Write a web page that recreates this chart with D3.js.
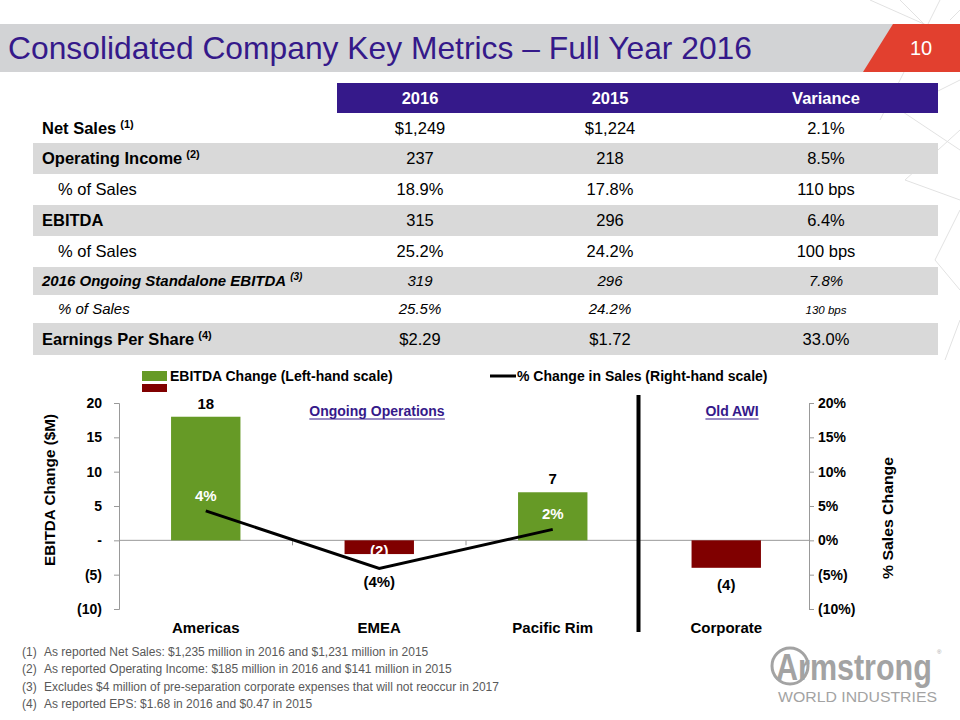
<!DOCTYPE html>
<html><head><meta charset="utf-8">
<script src="https://cdn.jsdelivr.net/npm/d3@7"></script>
<style>
body{margin:0;background:#fff;}
svg{display:block;font-family:Arial,"Liberation Sans",sans-serif;}
</style></head>
<body>
<script>
// ---------- data ----------
const tableHeaders = ["2016", "2015", "Variance"];
const rowLabels = ["Net Sales", "Operating Income", "% of Sales", "EBITDA", "% of Sales", "2016 Ongoing Standalone EBITDA", "% of Sales", "Earnings Per Share"];
const rowNotes = ["(1)", "(2)", "", "", "", "(3)", "", "(4)"];
const col2016 = ["$1,249", "237", "18.9%", "315", "25.2%", "319", "25.5%", "$2.29"];
const col2015 = ["$1,224", "218", "17.8%", "296", "24.2%", "296", "24.2%", "$1.72"];
const colVariance = ["2.1%", "8.5%", "110 bps", "6.4%", "100 bps", "7.8%", "130 bps", "33.0%"];

const categories = ["Americas", "EMEA", "Pacific Rim", "Corporate"];
const ebitdaChange = [18, -2, 7, -4];
const ebitdaLabels = ["18", "(2)", "7", "(4)"];
const salesChange = [4.3, -4.1, 1.6];          // % change in sales (ongoing ops only)
const salesLabels = ["4%", "(4%)", "2%"];
const leftTicks = [-10, -5, 0, 5, 10, 15, 20];
const leftTickLabels = ["(10)", "(5)", "-", "5", "10", "15", "20"];
const rightTicks = [-10, -5, 0, 5, 10, 15, 20];
const rightTickLabels = ["(10%)", "(5%)", "0%", "5%", "10%", "15%", "20%"];
const footnotes = [
  ["(1)", "As reported Net Sales: $1,235 million in 2016 and $1,231 million in 2015"],
  ["(2)", "As reported Operating Income: $185 million in 2016 and $141 million in 2015"],
  ["(3)", "Excludes $4 million of pre-separation corporate expenses that will not reoccur in 2017"],
  ["(4)", "As reported EPS: $1.68 in 2016 and $0.47 in 2015"]
];

// ---------- svg ----------
const W = 960, H = 720;
const svg = d3.select("body").append("svg").attr("width", W).attr("height", H);
const purple = "#35198a", green = "#669a26", red = "#800000";

// decorative lines top-right
const deco = [[870,0,960,40],[900,0,960,60],[940,0,880,120],[960,80,900,110],[900,110,960,150],
  [960,130,905,180],[905,180,960,200],[960,210,935,260],[935,260,960,290],[960,320,945,360],[950,20,960,10]];
svg.append("g").selectAll("line").data(deco).join("line")
  .attr("x1",d=>d[0]).attr("y1",d=>d[1]).attr("x2",d=>d[2]).attr("y2",d=>d[3])
  .attr("stroke","#e2e2e2").attr("stroke-width",1);

// title band
svg.append("rect").attr("x",0).attr("y",24).attr("width",895).attr("height",48).attr("fill","#d2d3d5");
svg.append("polygon").attr("points","893,24 960,24 960,72 863,72").attr("fill","#e2402f");
svg.append("text").attr("x",8).attr("y",59).attr("font-size",31.5).attr("fill",purple)
  .attr("textLength",744).attr("lengthAdjust","spacingAndGlyphs")
  .text("Consolidated Company Key Metrics – Full Year 2016");
svg.append("text").attr("x",921).attr("y",55).attr("text-anchor","middle").attr("font-size",20).attr("fill","#fff").text("10");

// ---------- table ----------
const colX = [420, 610, 826];
const rowTop = [113,143,174,205,236,267,295,323];
const rowBot = [143,174,205,236,267,295,323,355];
svg.append("rect").attr("x",337).attr("y",83).attr("width",601).attr("height",30).attr("fill",purple);
svg.append("g").selectAll("text").data(tableHeaders).join("text")
  .attr("x",(d,i)=>colX[i]).attr("y",104).attr("text-anchor","middle")
  .attr("font-size",16.5).attr("font-weight","bold").attr("fill","#fff").text(d=>d);

const rows = svg.append("g").selectAll("g").data(rowLabels).join("g");
rows.each(function(d,i){
  const g = d3.select(this);
  if(i%2===1) g.append("rect").attr("x",33).attr("y",rowTop[i]).attr("width",905).attr("height",rowBot[i]-rowTop[i]).attr("fill","#d9d9d9");
  const italic = (i===5||i===6);
  const indent = (d==="% of Sales");
  const bold = !indent;
  const fs = italic ? 15 : 16.5;
  const cy = (rowTop[i]+rowBot[i])/2 + fs*0.36;
  const t = g.append("text").attr("x", indent ? 58 : 42).attr("y",cy)
    .attr("font-size",fs).attr("font-weight", bold ? "bold":"normal")
    .attr("font-style", italic ? "italic":"normal").attr("fill","#000").text(d);
  if(rowNotes[i]) t.append("tspan").attr("font-size", italic?10:11).attr("dx",4).attr("dy",-6).text(rowNotes[i]);
  const vals = [col2016[i], col2015[i], colVariance[i]];
  g.selectAll("text.v").data(vals).join("text").attr("class","v")
    .attr("x",(v,j)=>colX[j]).attr("y",cy).attr("text-anchor","middle")
    .attr("font-size",(v,j)=> (i===6 && j===2) ? 11.5 : fs)
    .attr("font-style", italic ? "italic":"normal").text(v=>v);
});

// ---------- chart ----------
const x0 = 119, x1 = 813;
const x = d3.scaleBand().domain(categories).range([x0,x1]).padding(0);
const yL = d3.scaleLinear().domain([-10,20]).range([609,403]);
const yR = d3.scaleLinear().domain([-10,20]).range([609,403]);
const barW = x.bandwidth()*0.4;
const cx = c => x(c)+x.bandwidth()/2;

// left axis
const gl = svg.append("g").attr("transform",`translate(${x0},0)`)
  .call(d3.axisLeft(yL).tickValues(leftTicks).tickFormat((d,i)=>leftTickLabels[i]).tickSize(5).tickPadding(12));
gl.selectAll("path,line").attr("stroke","#999");
gl.selectAll("text").attr("font-size",14).attr("font-weight","bold").attr("fill","#000").attr("font-family","Arial,'Liberation Sans',sans-serif");
// right axis
const gr = svg.append("g").attr("transform",`translate(${x1-4},0)`)
  .call(d3.axisRight(yR).tickValues(rightTicks).tickFormat((d,i)=>rightTickLabels[i]).tickSize(5).tickPadding(4));
gr.selectAll("path,line").attr("stroke","#999");
gr.selectAll("text").attr("font-size",14).attr("font-weight","bold").attr("fill","#000").attr("font-family","Arial,'Liberation Sans',sans-serif");

// zero line + category ticks
svg.append("line").attr("x1",x0).attr("x2",x1-4).attr("y1",yL(0)).attr("y2",yL(0)).attr("stroke","#999");
svg.append("g").selectAll("line").data(categories.slice(1,3)).join("line")
  .attr("x1",d=>x(d)).attr("x2",d=>x(d)).attr("y1",yL(0)).attr("y2",yL(0)+5).attr("stroke","#999");

// bars
svg.append("g").selectAll("rect").data(ebitdaChange).join("rect")
  .attr("x",(d,i)=>cx(categories[i])-barW/2).attr("width",barW)
  .attr("y",d=>yL(Math.max(0,d))).attr("height",d=>Math.abs(yL(d)-yL(0)))
  .attr("fill",d=>d>=0?green:red);

// bar labels
svg.append("g").selectAll("text").data(ebitdaChange).join("text")
  .attr("x",(d,i)=>cx(categories[i])).attr("text-anchor","middle")
  .attr("y",(d,i)=> i===1 ? yL(d)+2 : (d>=0 ? yL(d)-8 : yL(d)+22))
  .attr("font-size",15).attr("font-weight","bold")
  .attr("fill",(d,i)=> i===1 ? "#fff" : "#000")
  .text((d,i)=>ebitdaLabels[i]);

// separator
svg.append("line").attr("x1",x(categories[3])-1).attr("x2",x(categories[3])-1).attr("y1",395).attr("y2",632)
  .attr("stroke","#000").attr("stroke-width",4);

// line
const lineData = salesChange.map((v,i)=>[cx(categories[i]), yR(v)]);
svg.append("path").attr("d",d3.line()(lineData)).attr("fill","none").attr("stroke","#000").attr("stroke-width",3);
svg.append("g").selectAll("text").data(salesChange).join("text")
  .attr("x",(d,i)=>cx(categories[i])).attr("text-anchor","middle")
  .attr("y",(d,i)=> i===1 ? yR(d)+19 : yR(d)-10)
  .attr("font-size",15).attr("font-weight","bold")
  .attr("fill",(d,i)=> i===1 ? "#000" : "#fff")
  .text((d,i)=>salesLabels[i]);

// category labels
svg.append("g").selectAll("text").data(categories).join("text")
  .attr("x",d=>cx(d)).attr("y",633).attr("text-anchor","middle")
  .attr("font-size",15).attr("font-weight","bold").text(d=>d);

// section titles
[["Ongoing Operations",377],["Old AWI",732]].forEach(([t,xx])=>{
  const tx = svg.append("text").attr("x",xx).attr("y",416).attr("text-anchor","middle")
    .attr("font-size",14).attr("font-weight","bold").attr("fill",purple).text(t);
  const bb = tx.node().getBBox();
  svg.append("line").attr("x1",bb.x).attr("x2",bb.x+bb.width).attr("y1",419).attr("y2",419).attr("stroke",purple).attr("stroke-width",1.2);
});

// axis titles
svg.append("text").attr("transform","translate(55,490) rotate(-90)").attr("text-anchor","middle")
  .attr("font-size",15).attr("font-weight","bold")
  .attr("textLength",152).attr("lengthAdjust","spacingAndGlyphs").text("EBITDA Change ($M)");
svg.append("text").attr("transform","translate(893,518) rotate(-90)").attr("text-anchor","middle")
  .attr("font-size",15.5).attr("font-weight","bold")
  .attr("textLength",122).attr("lengthAdjust","spacingAndGlyphs").text("% Sales Change");

// legend
svg.append("rect").attr("x",142).attr("y",371).attr("width",25).attr("height",10).attr("fill",green);
svg.append("rect").attr("x",142).attr("y",384).attr("width",25).attr("height",8).attr("fill",red);
svg.append("text").attr("x",170).attr("y",381).attr("font-size",14).attr("font-weight","bold").text("EBITDA Change (Left-hand scale)");
svg.append("line").attr("x1",490).attr("x2",516).attr("y1",376).attr("y2",376).attr("stroke","#000").attr("stroke-width",3);
svg.append("text").attr("x",517).attr("y",381).attr("font-size",14).attr("font-weight","bold").text("% Change in Sales (Right-hand scale)");

// footnotes
const fg = svg.append("g").attr("fill","#595959").attr("font-size",12);
footnotes.forEach((f,i)=>{
  const yy = 656 + i*17.3;
  fg.append("text").attr("x",22).attr("y",yy).text(f[0]);
  fg.append("text").attr("x",44).attr("y",yy).text(f[1]);
});

// logo
const logoGray = "#a3a3a3";
svg.append("circle").attr("cx",790).attr("cy",666).attr("r",18).attr("fill","none").attr("stroke",logoGray).attr("stroke-width",3);
svg.append("text").attr("transform","translate(776,680) scale(1,1.22)").attr("font-size",30.5).attr("font-weight","bold")
  .attr("fill",logoGray).text("Armstrong");
svg.append("text").attr("x",937).attr("y",654).attr("font-size",6).attr("fill",logoGray).text("®");
svg.append("text").attr("x",778).attr("y",702).attr("font-size",15).attr("fill",logoGray)
  .attr("textLength",159).attr("lengthAdjust","spacingAndGlyphs").text("WORLD INDUSTRIES");
</script>
</body></html>
